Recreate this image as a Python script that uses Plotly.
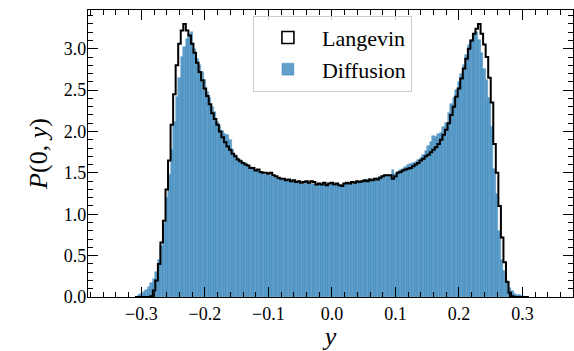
import numpy as np
import plotly.graph_objects as go

# Histogram bins (155 bins of width 0.004 from -0.31 to 0.31)
bin_edges = np.round(np.linspace(-0.31, 0.31, 156), 4)
bin_centers = (bin_edges[:-1] + bin_edges[1:]) / 2
bin_widths = np.diff(bin_edges)

# Langevin (black step outline) densities
langevin = [
    0, 0, 0, 0, 0, 0, 0.01, 0.08, 0.20, 0.40,
    0.66, 0.92, 1.30, 1.65, 2.08, 2.45, 2.80, 3.06, 3.22, 3.30,
    3.22, 3.16, 3.06, 2.95, 2.83, 2.72, 2.62, 2.52, 2.43, 2.33,
    2.22, 2.15, 2.08, 2.00, 1.93, 1.87, 1.82, 1.78, 1.73, 1.70,
    1.66, 1.64, 1.62, 1.60, 1.59, 1.56, 1.56, 1.53, 1.54, 1.51,
    1.50, 1.50, 1.49, 1.50, 1.47, 1.46, 1.44, 1.43, 1.43, 1.41,
    1.42, 1.40, 1.41, 1.39, 1.40, 1.38, 1.39, 1.40, 1.38, 1.40,
    1.39, 1.36, 1.37, 1.36, 1.38, 1.35, 1.37, 1.38, 1.36, 1.37,
    1.35, 1.34, 1.37, 1.38, 1.37, 1.39, 1.38, 1.40, 1.39, 1.40,
    1.41, 1.40, 1.42, 1.41, 1.43, 1.42, 1.44, 1.46, 1.47, 1.47,
    1.47, 1.43, 1.46, 1.50, 1.51, 1.53, 1.54, 1.55, 1.56, 1.58,
    1.60, 1.62, 1.65, 1.67, 1.70, 1.72, 1.75, 1.78, 1.81, 1.85,
    1.90, 1.96, 2.02, 2.10, 2.20, 2.30, 2.42, 2.52, 2.64, 2.76,
    2.88, 3.00, 3.10, 3.18, 3.24, 3.30, 3.18, 3.05, 2.90, 2.65,
    2.35, 1.85, 1.50, 1.10, 0.72, 0.42, 0.18, 0.05, 0.01, 0,
    0, 0, 0, 0, 0,
]

# Diffusion (blue bars) densities
diffusion = [
    0.005, 0.02, 0.04, 0.06, 0.09, 0.12, 0.17, 0.22, 0.30, 0.45,
    0.62, 0.90, 1.20, 1.48, 1.78, 2.12, 2.42, 2.65, 2.90, 3.02,
    3.12, 3.18, 3.20, 3.00, 2.88, 2.80, 2.72, 2.62, 2.48, 2.40,
    2.30, 2.24, 2.12, 2.07, 2.00, 1.97, 1.96, 1.90, 1.78, 1.72,
    1.68, 1.66, 1.63, 1.62, 1.59, 1.57, 1.55, 1.54, 1.52, 1.50,
    1.51, 1.48, 1.47, 1.46, 1.45, 1.44, 1.43, 1.42, 1.41, 1.41,
    1.40, 1.39, 1.40, 1.38, 1.38, 1.37, 1.37, 1.38, 1.36, 1.37,
    1.36, 1.35, 1.36, 1.35, 1.36, 1.34, 1.35, 1.36, 1.34, 1.35,
    1.34, 1.35, 1.36, 1.36, 1.37, 1.37, 1.38, 1.39, 1.38, 1.40,
    1.40, 1.41, 1.42, 1.41, 1.43, 1.44, 1.45, 1.46, 1.47, 1.48,
    1.47, 1.53, 1.49, 1.51, 1.53, 1.55, 1.57, 1.60, 1.61, 1.62,
    1.63, 1.66, 1.68, 1.72, 1.76, 1.82, 1.87, 1.95, 1.93, 1.97,
    1.98, 2.05, 2.10, 2.22, 2.33, 2.40, 2.50, 2.60, 2.70, 2.80,
    2.92, 3.05, 3.10, 3.18, 3.20, 3.10, 2.95, 2.75, 2.62, 2.40,
    2.05, 1.55, 1.25, 0.80, 0.45, 0.31, 0.19, 0.11, 0.07, 0.04,
    0.03, 0.02, 0.01, 0.005, 0.0,
]

x_ticks = [-0.3, -0.2, -0.1, 0.0, 0.1, 0.2, 0.3]
y_ticks = [0.0, 0.5, 1.0, 1.5, 2.0, 2.5, 3.0]

FONT = "'Liberation Serif', 'DejaVu Serif', serif"

fig = go.Figure()
fig.add_trace(go.Bar(
    x=bin_centers, y=diffusion, width=bin_widths, name="Diffusion",
    marker=dict(color="rgba(31,119,180,0.7)",
                line=dict(width=0.6, color="rgba(31,119,180,0.55)")),
    legendrank=2,
))
fig.add_trace(go.Scatter(
    x=bin_edges, y=langevin + [langevin[-1]], mode="lines", name="Langevin",
    line=dict(shape="hv", color="black", width=2),
    showlegend=False,
))
# legend glyph for the step histogram (outlined box, like matplotlib's step hist)
fig.add_trace(go.Bar(
    x=[None], y=[None], name="Langevin",
    marker=dict(color="white", line=dict(width=1.6, color="black")),
    legendrank=1, hoverinfo="skip",
))

axis_common = dict(
    ticks="inside", ticklen=10, tickwidth=1.2, tickcolor="black",
    showline=True, linecolor="black", linewidth=1.3, mirror="ticks",
    showgrid=False, zeroline=False, tickformat=".1f",
    tickfont=dict(family=FONT, size=18, color="black"),
)

fig.update_layout(
    width=574, height=351,
    margin=dict(l=88, r=1, t=10, b=54),
    plot_bgcolor="white", paper_bgcolor="white",
    bargap=0, barmode="overlay",
    font=dict(family=FONT, size=18, color="black"),
    legend=dict(x=0.504, xanchor="center", y=0.98, yanchor="top",
                font=dict(family=FONT, size=22, color="black"),
                bgcolor="rgba(255,255,255,0.8)", bordercolor="#cccccc",
                borderwidth=1, itemwidth=58, tracegroupgap=0),
    showlegend=True,
)
fig.update_xaxes(
    range=[-0.384, 0.3795], tickvals=x_ticks,
    minor=dict(dtick=0.02, tick0=0, ticks="inside", ticklen=5,
               tickwidth=1, tickcolor="black", showgrid=False),
    ticklabelstandoff=0,
    title=dict(text="<i>y</i>", font=dict(family=FONT, size=26), standoff=8),
    **axis_common,
)
fig.update_yaxes(
    range=[0, 3.468], tickvals=y_ticks,
    minor=dict(dtick=0.1, tick0=0, ticks="inside", ticklen=5,
               tickwidth=1, tickcolor="black", showgrid=False),
    ticklabelstandoff=-3,
    title=dict(text="<i>P</i>(0, <i>y</i>)", font=dict(family=FONT, size=26),
               standoff=8),
    **axis_common,
)

fig.write_html("out.html")
